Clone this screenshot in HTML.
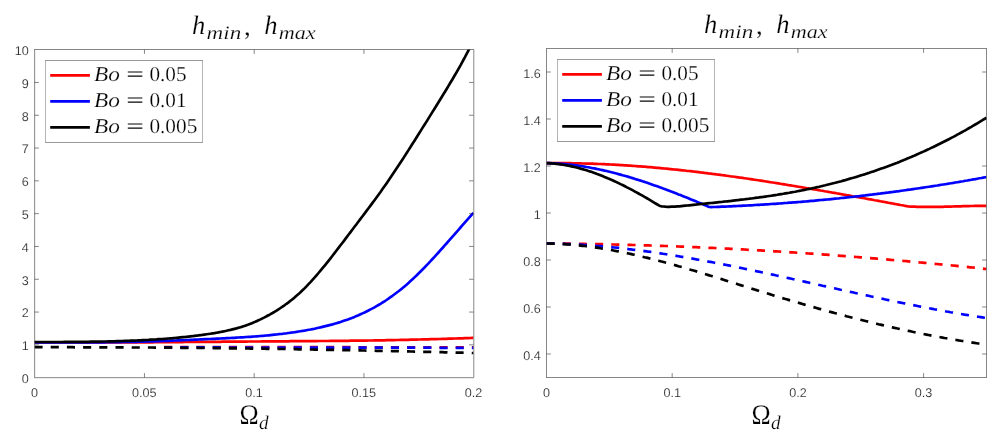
<!DOCTYPE html>
<html lang="en"><head><meta charset="utf-8"><title>h_min, h_max</title>
<style>html,body{margin:0;padding:0;background:#fff}svg{display:block;will-change:transform}.tk{font-family:"Liberation Sans",sans-serif;font-size:12.6px;fill:#262626;text-rendering:geometricPrecision;stroke:#fff;stroke-width:.15px}.m{font-family:"Liberation Serif",serif;fill:#000;text-rendering:geometricPrecision;stroke:#fff;stroke-width:.2px}.i{font-style:italic}</style></head><body>
<svg width="1008" height="442" viewBox="0 0 1008 442">
<rect width="1008" height="442" fill="#fff"/>
<clipPath id="cl"><rect x="34.5" y="49.5" width="439.0" height="328.0"/></clipPath>
<text class="tk" x="34.5" y="397.2" text-anchor="middle">0</text>
<text class="tk" x="144.2" y="397.2" text-anchor="middle">0.05</text>
<text class="tk" x="254.0" y="397.2" text-anchor="middle">0.1</text>
<text class="tk" x="363.7" y="397.2" text-anchor="middle">0.15</text>
<text class="tk" x="473.5" y="397.2" text-anchor="middle">0.2</text>
<text class="tk" x="28.7" y="383.0" text-anchor="end">0</text>
<text class="tk" x="28.7" y="350.2" text-anchor="end">1</text>
<text class="tk" x="28.7" y="317.4" text-anchor="end">2</text>
<text class="tk" x="28.7" y="284.6" text-anchor="end">3</text>
<text class="tk" x="28.7" y="251.8" text-anchor="end">4</text>
<text class="tk" x="28.7" y="219.0" text-anchor="end">5</text>
<text class="tk" x="28.7" y="186.2" text-anchor="end">6</text>
<text class="tk" x="28.7" y="153.4" text-anchor="end">7</text>
<text class="tk" x="28.7" y="120.6" text-anchor="end">8</text>
<text class="tk" x="28.7" y="87.8" text-anchor="end">9</text>
<text class="tk" x="28.7" y="55.0" text-anchor="end">10</text>
<g clip-path="url(#cl)" fill="none" stroke-width="2.67" stroke-linejoin="round">
<path d="M34.5,342.5 L36.5,342.5 L38.5,342.5 L40.5,342.5 L42.5,342.5 L44.5,342.5 L46.5,342.5 L48.5,342.5 L50.5,342.5 L52.5,342.5 L54.5,342.5 L56.5,342.5 L58.5,342.5 L60.5,342.5 L62.5,342.5 L64.5,342.5 L66.5,342.5 L68.5,342.5 L70.5,342.5 L72.5,342.5 L74.5,342.5 L76.5,342.5 L78.5,342.5 L80.5,342.5 L82.5,342.5 L84.5,342.5 L86.5,342.5 L88.5,342.5 L90.5,342.5 L92.5,342.5 L94.5,342.5 L96.5,342.5 L98.5,342.5 L100.5,342.5 L102.5,342.5 L104.5,342.5 L106.5,342.5 L108.5,342.5 L110.5,342.5 L112.5,342.5 L114.5,342.5 L116.5,342.5 L118.5,342.4 L120.5,342.4 L122.5,342.4 L124.5,342.4 L126.5,342.4 L128.5,342.4 L130.5,342.4 L132.5,342.4 L134.5,342.4 L136.5,342.3 L138.5,342.3 L140.5,342.3 L142.5,342.3 L144.5,342.3 L146.5,342.3 L148.5,342.3 L150.5,342.3 L152.5,342.3 L154.5,342.2 L156.5,342.2 L158.5,342.2 L160.5,342.2 L162.5,342.2 L164.5,342.2 L166.5,342.2 L168.5,342.2 L170.5,342.1 L172.5,342.1 L174.5,342.1 L176.5,342.1 L178.5,342.1 L180.5,342.1 L182.5,342.1 L184.5,342.0 L186.5,342.0 L188.5,342.0 L190.5,342.0 L192.5,342.0 L194.5,342.0 L196.5,342.0 L198.5,341.9 L200.5,341.9 L202.5,341.9 L204.5,341.9 L206.5,341.9 L208.5,341.9 L210.5,341.8 L212.5,341.8 L214.5,341.8 L216.5,341.8 L218.5,341.8 L220.5,341.8 L222.5,341.7 L224.5,341.7 L226.5,341.7 L228.5,341.7 L230.5,341.7 L232.5,341.7 L234.5,341.7 L236.5,341.6 L238.5,341.6 L240.5,341.6 L242.5,341.6 L244.5,341.6 L246.5,341.6 L248.5,341.5 L250.5,341.5 L252.5,341.5 L254.5,341.5 L256.5,341.5 L258.5,341.5 L260.5,341.5 L262.5,341.4 L264.5,341.4 L266.5,341.4 L268.5,341.4 L270.5,341.4 L272.5,341.4 L274.5,341.4 L276.5,341.3 L278.5,341.3 L280.5,341.3 L282.5,341.3 L284.5,341.3 L286.5,341.3 L288.5,341.3 L290.5,341.2 L292.5,341.2 L294.5,341.2 L296.5,341.2 L298.5,341.2 L300.5,341.2 L302.5,341.2 L304.5,341.1 L306.5,341.1 L308.5,341.1 L310.5,341.1 L312.5,341.1 L314.5,341.1 L316.5,341.1 L318.5,341.0 L320.5,341.0 L322.5,341.0 L324.5,341.0 L326.5,341.0 L328.5,341.0 L330.5,340.9 L332.5,340.9 L334.5,340.9 L336.5,340.9 L338.5,340.9 L340.5,340.8 L342.5,340.8 L344.5,340.8 L346.5,340.8 L348.5,340.8 L350.5,340.7 L352.5,340.7 L354.5,340.7 L356.5,340.7 L358.5,340.7 L360.5,340.6 L362.5,340.6 L364.5,340.6 L366.5,340.6 L368.5,340.5 L370.5,340.5 L372.5,340.5 L374.5,340.4 L376.5,340.4 L378.5,340.4 L380.5,340.3 L382.5,340.3 L384.5,340.3 L386.5,340.2 L388.5,340.2 L390.5,340.2 L392.5,340.1 L394.5,340.1 L396.5,340.0 L398.5,340.0 L400.5,339.9 L402.5,339.9 L404.5,339.9 L406.5,339.8 L408.5,339.8 L410.5,339.7 L412.5,339.7 L414.5,339.6 L416.5,339.6 L418.5,339.5 L420.5,339.5 L422.5,339.4 L424.5,339.4 L426.5,339.3 L428.5,339.3 L430.5,339.2 L432.5,339.2 L434.5,339.1 L436.5,339.1 L438.5,339.0 L440.5,339.0 L442.5,338.9 L444.5,338.8 L446.5,338.8 L448.5,338.7 L450.5,338.7 L452.5,338.6 L454.5,338.5 L456.5,338.5 L458.5,338.4 L460.5,338.3 L462.5,338.3 L464.5,338.2 L466.5,338.1 L468.5,338.1 L470.5,338.0 L472.5,337.9 L473.5,337.9" stroke="#ff0000"/>
<path d="M34.5,342.4 L36.5,342.4 L38.5,342.5 L40.5,342.5 L42.5,342.5 L44.5,342.5 L46.5,342.5 L48.5,342.5 L50.5,342.5 L52.5,342.5 L54.5,342.5 L56.5,342.5 L58.5,342.5 L60.5,342.5 L62.5,342.5 L64.5,342.4 L66.5,342.4 L68.5,342.4 L70.5,342.4 L72.5,342.4 L74.5,342.4 L76.5,342.4 L78.5,342.4 L80.5,342.4 L82.5,342.4 L84.5,342.4 L86.5,342.4 L88.5,342.4 L90.5,342.4 L92.5,342.4 L94.5,342.3 L96.5,342.3 L98.5,342.3 L100.5,342.3 L102.5,342.3 L104.5,342.3 L106.5,342.2 L108.5,342.2 L110.5,342.2 L112.5,342.2 L114.5,342.1 L116.5,342.1 L118.5,342.1 L120.5,342.1 L122.5,342.0 L124.5,342.0 L126.5,342.0 L128.5,341.9 L130.5,341.9 L132.5,341.8 L134.5,341.8 L136.5,341.8 L138.5,341.7 L140.5,341.7 L142.5,341.6 L144.5,341.6 L146.5,341.5 L148.5,341.4 L150.5,341.4 L152.5,341.3 L154.5,341.3 L156.5,341.2 L158.5,341.1 L160.5,341.1 L162.5,341.0 L164.5,340.9 L166.5,340.8 L168.5,340.8 L170.5,340.7 L172.5,340.6 L174.5,340.5 L176.5,340.5 L178.5,340.4 L180.5,340.3 L182.5,340.2 L184.5,340.1 L186.5,340.0 L188.5,340.0 L190.5,339.9 L192.5,339.8 L194.5,339.7 L196.5,339.6 L198.5,339.5 L200.5,339.4 L202.5,339.3 L204.5,339.2 L206.5,339.1 L208.5,339.0 L210.5,339.0 L212.5,338.9 L214.5,338.8 L216.5,338.7 L218.5,338.6 L220.5,338.5 L222.5,338.4 L224.5,338.3 L226.5,338.2 L228.5,338.1 L230.5,338.0 L232.5,337.9 L234.5,337.8 L236.5,337.6 L238.5,337.5 L240.5,337.4 L242.5,337.3 L244.5,337.2 L246.5,337.0 L248.5,336.9 L250.5,336.8 L252.5,336.6 L254.5,336.5 L256.5,336.3 L258.5,336.2 L260.5,336.0 L262.5,335.8 L264.5,335.7 L266.5,335.5 L268.5,335.3 L270.5,335.1 L272.5,334.9 L274.5,334.7 L276.5,334.5 L278.5,334.2 L280.5,334.0 L282.5,333.8 L284.5,333.5 L286.5,333.3 L288.5,333.0 L290.5,332.7 L292.5,332.5 L294.5,332.2 L296.5,331.9 L298.5,331.5 L300.5,331.2 L302.5,330.9 L304.5,330.6 L306.5,330.2 L308.5,329.8 L310.5,329.5 L312.5,329.1 L314.5,328.7 L316.5,328.2 L318.5,327.8 L320.5,327.4 L322.5,326.9 L324.5,326.4 L326.5,325.9 L328.5,325.4 L330.5,324.9 L332.5,324.4 L334.5,323.8 L336.5,323.2 L338.5,322.6 L340.5,322.0 L342.5,321.3 L344.5,320.6 L346.5,319.9 L348.5,319.2 L350.5,318.4 L352.5,317.7 L354.5,316.9 L356.5,316.0 L358.5,315.2 L360.5,314.3 L362.5,313.4 L364.5,312.5 L366.5,311.5 L368.5,310.5 L370.5,309.4 L372.5,308.4 L374.5,307.3 L376.5,306.1 L378.5,305.0 L380.5,303.8 L382.5,302.5 L384.5,301.3 L386.5,300.0 L388.5,298.6 L390.5,297.2 L392.5,295.8 L394.5,294.3 L396.5,292.8 L398.5,291.3 L400.5,289.7 L402.5,288.1 L404.5,286.4 L406.5,284.7 L408.5,282.9 L410.5,281.1 L412.5,279.3 L414.5,277.4 L416.5,275.5 L418.5,273.5 L420.5,271.5 L422.5,269.5 L424.5,267.5 L426.5,265.4 L428.5,263.3 L430.5,261.2 L432.5,259.0 L434.5,256.9 L436.5,254.7 L438.5,252.5 L440.5,250.2 L442.5,248.0 L444.5,245.7 L446.5,243.5 L448.5,241.2 L450.5,238.9 L452.5,236.6 L454.5,234.3 L456.5,232.1 L458.5,229.8 L460.5,227.5 L462.5,225.2 L464.5,222.9 L466.5,220.6 L468.5,218.4 L470.5,216.1 L472.5,213.9 L473.5,212.8" stroke="#0000ff"/>
<path d="M34.5,342.0 L36.5,342.0 L38.5,342.0 L40.5,342.0 L42.5,342.0 L44.5,342.0 L46.5,342.0 L48.5,342.0 L50.5,342.0 L52.5,342.0 L54.5,342.0 L56.5,342.0 L58.5,342.0 L60.5,342.0 L62.5,342.0 L64.5,341.9 L66.5,341.9 L68.5,341.9 L70.5,341.9 L72.5,341.9 L74.5,341.9 L76.5,341.9 L78.5,341.9 L80.5,341.8 L82.5,341.8 L84.5,341.8 L86.5,341.8 L88.5,341.8 L90.5,341.7 L92.5,341.7 L94.5,341.7 L96.5,341.6 L98.5,341.6 L100.5,341.6 L102.5,341.5 L104.5,341.5 L106.5,341.5 L108.5,341.4 L110.5,341.4 L112.5,341.3 L114.5,341.3 L116.5,341.2 L118.5,341.1 L120.5,341.1 L122.5,341.0 L124.5,340.9 L126.5,340.9 L128.5,340.8 L130.5,340.7 L132.5,340.6 L134.5,340.6 L136.5,340.5 L138.5,340.4 L140.5,340.3 L142.5,340.2 L144.5,340.1 L146.5,340.0 L148.5,339.9 L150.5,339.7 L152.5,339.6 L154.5,339.5 L156.5,339.4 L158.5,339.2 L160.5,339.1 L162.5,339.0 L164.5,338.8 L166.5,338.7 L168.5,338.5 L170.5,338.3 L172.5,338.2 L174.5,338.0 L176.5,337.8 L178.5,337.6 L180.5,337.4 L182.5,337.2 L184.5,337.0 L186.5,336.8 L188.5,336.6 L190.5,336.4 L192.5,336.2 L194.5,335.9 L196.5,335.7 L198.5,335.4 L200.5,335.2 L202.5,334.9 L204.5,334.6 L206.5,334.3 L208.5,334.0 L210.5,333.7 L212.5,333.4 L214.5,333.1 L216.5,332.7 L218.5,332.4 L220.5,332.0 L222.5,331.6 L224.5,331.2 L226.5,330.8 L228.5,330.3 L230.5,329.9 L232.5,329.4 L234.5,328.9 L236.5,328.4 L238.5,327.8 L240.5,327.2 L242.5,326.6 L244.5,325.9 L246.5,325.2 L248.5,324.5 L250.5,323.7 L252.5,322.9 L254.5,322.1 L256.5,321.2 L258.5,320.3 L260.5,319.4 L262.5,318.4 L264.5,317.4 L266.5,316.3 L268.5,315.3 L270.5,314.1 L272.5,313.0 L274.5,311.8 L276.5,310.6 L278.5,309.3 L280.5,308.0 L282.5,306.7 L284.5,305.3 L286.5,303.8 L288.5,302.4 L290.5,300.8 L292.5,299.2 L294.5,297.6 L296.5,295.8 L298.5,294.1 L300.5,292.2 L302.5,290.3 L304.5,288.4 L306.5,286.3 L308.5,284.2 L310.5,282.1 L312.5,279.9 L314.5,277.7 L316.5,275.4 L318.5,273.0 L320.5,270.6 L322.5,268.2 L324.5,265.8 L326.5,263.3 L328.5,260.8 L330.5,258.3 L332.5,255.7 L334.5,253.1 L336.5,250.5 L338.5,247.9 L340.5,245.3 L342.5,242.7 L344.5,240.1 L346.5,237.4 L348.5,234.8 L350.5,232.1 L352.5,229.5 L354.5,226.8 L356.5,224.2 L358.5,221.5 L360.5,218.9 L362.5,216.2 L364.5,213.6 L366.5,210.9 L368.5,208.3 L370.5,205.6 L372.5,202.9 L374.5,200.2 L376.5,197.5 L378.5,194.7 L380.5,192.0 L382.5,189.1 L384.5,186.3 L386.5,183.4 L388.5,180.5 L390.5,177.6 L392.5,174.6 L394.5,171.6 L396.5,168.6 L398.5,165.6 L400.5,162.5 L402.5,159.5 L404.5,156.4 L406.5,153.3 L408.5,150.1 L410.5,147.0 L412.5,143.8 L414.5,140.7 L416.5,137.5 L418.5,134.3 L420.5,131.1 L422.5,127.9 L424.5,124.8 L426.5,121.6 L428.5,118.4 L430.5,115.1 L432.5,111.9 L434.5,108.7 L436.5,105.5 L438.5,102.3 L440.5,99.0 L442.5,95.8 L444.5,92.5 L446.5,89.2 L448.5,85.9 L450.5,82.5 L452.5,79.2 L454.5,75.8 L456.5,72.3 L458.5,68.8 L460.5,65.3 L462.5,61.6 L464.5,58.0 L466.5,54.2 L468.5,50.4 L470.5,46.5" stroke="#000000"/>
<path d="M164.1,347.2 L166.1,347.2 L168.1,347.2 L170.1,347.2 L172.1,347.2 L174.1,347.2 L176.1,347.2 L178.1,347.2 L180.1,347.2 L182.1,347.2 L184.1,347.2 L186.1,347.2 L188.1,347.2 L190.1,347.2 L192.1,347.2 L194.1,347.2 L196.1,347.2 L198.1,347.2 L200.1,347.2 L202.1,347.2 L204.1,347.2 L206.1,347.2 L208.1,347.2 L210.1,347.2 L212.1,347.2 L214.1,347.2 L216.1,347.2 L218.1,347.2 L220.1,347.2 L222.1,347.2 L224.1,347.2 L226.1,347.2 L228.1,347.2 L230.1,347.2 L232.1,347.2 L234.1,347.2 L236.1,347.2 L238.1,347.2 L240.1,347.2 L242.1,347.2 L244.1,347.2 L246.1,347.2 L248.1,347.2 L250.1,347.2 L252.1,347.2 L254.1,347.2 L256.1,347.2 L258.1,347.2 L260.1,347.2 L262.1,347.2 L264.1,347.2 L266.1,347.2 L268.1,347.2 L270.1,347.2 L272.1,347.2 L274.1,347.2 L276.1,347.2 L278.1,347.2 L280.1,347.2 L282.1,347.2 L284.1,347.2 L286.1,347.2 L288.1,347.2 L290.1,347.2 L292.1,347.2 L294.1,347.2 L296.1,347.2 L298.1,347.2 L300.1,347.2 L302.1,347.2 L304.1,347.2 L306.1,347.2 L308.1,347.2 L310.1,347.2 L312.1,347.2 L314.1,347.2 L316.1,347.2 L318.1,347.2 L320.1,347.2 L322.1,347.2 L324.1,347.2 L326.1,347.2 L328.1,347.2 L330.1,347.2 L332.1,347.2 L334.1,347.2 L336.1,347.2 L338.1,347.2 L340.1,347.2 L342.1,347.2 L344.1,347.2 L346.1,347.2 L348.1,347.2 L350.1,347.2 L352.1,347.2 L354.1,347.2 L356.1,347.2 L358.1,347.3 L360.1,347.3 L362.1,347.3 L364.1,347.3 L366.1,347.3 L368.1,347.3 L370.1,347.3 L372.1,347.3 L374.1,347.3 L376.1,347.3 L378.1,347.3 L380.1,347.3 L382.1,347.3 L384.1,347.3 L386.1,347.3 L388.1,347.3 L390.1,347.3 L392.1,347.3 L394.1,347.3 L396.1,347.3 L398.1,347.3 L400.1,347.3 L402.1,347.3 L404.1,347.3 L406.1,347.3 L408.1,347.3 L410.1,347.3 L412.1,347.3 L414.1,347.3 L416.1,347.3 L418.1,347.3 L420.1,347.3 L422.1,347.3 L424.1,347.3 L426.1,347.3 L428.1,347.3 L430.1,347.3 L432.1,347.3 L434.1,347.3 L436.1,347.3 L438.1,347.3 L440.1,347.4 L442.1,347.4 L444.1,347.4 L446.1,347.4 L448.1,347.4 L450.1,347.4 L452.1,347.4 L454.1,347.4 L456.1,347.4 L458.1,347.4 L460.1,347.4 L462.1,347.4 L464.1,347.4 L466.1,347.4 L468.1,347.4 L470.1,347.4 L472.1,347.4 L473.5,347.4" stroke="#ff0000" stroke-dasharray="8.1 8.1"/>
<path d="M164.1,347.4 L166.1,347.4 L168.1,347.4 L170.1,347.4 L172.1,347.4 L174.1,347.4 L176.1,347.4 L178.1,347.4 L180.1,347.4 L182.1,347.4 L184.1,347.4 L186.1,347.4 L188.1,347.4 L190.1,347.4 L192.1,347.4 L194.1,347.4 L196.1,347.4 L198.1,347.4 L200.1,347.4 L202.1,347.4 L204.1,347.4 L206.1,347.4 L208.1,347.4 L210.1,347.4 L212.1,347.4 L214.1,347.4 L216.1,347.4 L218.1,347.4 L220.1,347.4 L222.1,347.4 L224.1,347.5 L226.1,347.5 L228.1,347.5 L230.1,347.5 L232.1,347.5 L234.1,347.5 L236.1,347.5 L238.1,347.5 L240.1,347.5 L242.1,347.5 L244.1,347.5 L246.1,347.5 L248.1,347.5 L250.1,347.5 L252.1,347.5 L254.1,347.5 L256.1,347.5 L258.1,347.5 L260.1,347.5 L262.1,347.5 L264.1,347.5 L266.1,347.5 L268.1,347.5 L270.1,347.5 L272.1,347.5 L274.1,347.5 L276.1,347.5 L278.1,347.5 L280.1,347.5 L282.1,347.5 L284.1,347.5 L286.1,347.5 L288.1,347.6 L290.1,347.6 L292.1,347.6 L294.1,347.6 L296.1,347.6 L298.1,347.6 L300.1,347.6 L302.1,347.6 L304.1,347.6 L306.1,347.6 L308.1,347.6 L310.1,347.6 L312.1,347.6 L314.1,347.6 L316.1,347.6 L318.1,347.6 L320.1,347.6 L322.1,347.6 L324.1,347.6 L326.1,347.6 L328.1,347.6 L330.1,347.6 L332.1,347.6 L334.1,347.6 L336.1,347.6 L338.1,347.6 L340.1,347.6 L342.1,347.6 L344.1,347.6 L346.1,347.6 L348.1,347.6 L350.1,347.6 L352.1,347.6 L354.1,347.6 L356.1,347.6 L358.1,347.7 L360.1,347.7 L362.1,347.7 L364.1,347.7 L366.1,347.7 L368.1,347.7 L370.1,347.7 L372.1,347.7 L374.1,347.7 L376.1,347.7 L378.1,347.7 L380.1,347.7 L382.1,347.7 L384.1,347.7 L386.1,347.7 L388.1,347.7 L390.1,347.7 L392.1,347.7 L394.1,347.7 L396.1,347.7 L398.1,347.7 L400.1,347.7 L402.1,347.7 L404.1,347.7 L406.1,347.7 L408.1,347.7 L410.1,347.7 L412.1,347.7 L414.1,347.7 L416.1,347.7 L418.1,347.7 L420.1,347.7 L422.1,347.7 L424.1,347.7 L426.1,347.7 L428.1,347.7 L430.1,347.7 L432.1,347.8 L434.1,347.8 L436.1,347.8 L438.1,347.8 L440.1,347.8 L442.1,347.8 L444.1,347.8 L446.1,347.8 L448.1,347.8 L450.1,347.8 L452.1,347.8 L454.1,347.8 L456.1,347.8 L458.1,347.8 L460.1,347.8 L462.1,347.8 L464.1,347.8 L466.1,347.8 L468.1,347.8 L470.1,347.8 L472.1,347.8 L473.5,347.8" stroke="#0000ff" stroke-dasharray="8.1 8.1"/>
<path d="M34.5,347.2 L36.5,347.2 L38.5,347.2 L40.5,347.2 L42.5,347.2 L44.5,347.2 L46.5,347.2 L48.5,347.2 L50.5,347.2 L52.5,347.2 L54.5,347.2 L56.5,347.2 L58.5,347.2 L60.5,347.2 L62.5,347.2 L64.5,347.2 L66.5,347.2 L68.5,347.2 L70.5,347.2 L72.5,347.2 L74.5,347.3 L76.5,347.3 L78.5,347.3 L80.5,347.3 L82.5,347.3 L84.5,347.3 L86.5,347.3 L88.5,347.3 L90.5,347.3 L92.5,347.3 L94.5,347.3 L96.5,347.3 L98.5,347.3 L100.5,347.3 L102.5,347.3 L104.5,347.3 L106.5,347.3 L108.5,347.4 L110.5,347.4 L112.5,347.4 L114.5,347.4 L116.5,347.4 L118.5,347.4 L120.5,347.4 L122.5,347.4 L124.5,347.4 L126.5,347.4 L128.5,347.4 L130.5,347.4 L132.5,347.5 L134.5,347.5 L136.5,347.5 L138.5,347.5 L140.5,347.5 L142.5,347.5 L144.5,347.5 L146.5,347.5 L148.5,347.5 L150.5,347.5 L152.5,347.5 L154.5,347.6 L156.5,347.6 L158.5,347.6 L160.5,347.6 L162.5,347.6 L164.5,347.6 L166.5,347.6 L168.5,347.6 L170.5,347.7 L172.5,347.7 L174.5,347.7 L176.5,347.7 L178.5,347.7 L180.5,347.8 L182.5,347.8 L184.5,347.8 L186.5,347.8 L188.5,347.8 L190.5,347.8 L192.5,347.9 L194.5,347.9 L196.5,347.9 L198.5,347.9 L200.5,348.0 L202.5,348.0 L204.5,348.0 L206.5,348.0 L208.5,348.0 L210.5,348.1 L212.5,348.1 L214.5,348.1 L216.5,348.1 L218.5,348.2 L220.5,348.2 L222.5,348.2 L224.5,348.2 L226.5,348.3 L228.5,348.3 L230.5,348.3 L232.5,348.3 L234.5,348.4 L236.5,348.4 L238.5,348.4 L240.5,348.4 L242.5,348.5 L244.5,348.5 L246.5,348.5 L248.5,348.5 L250.5,348.6 L252.5,348.6 L254.5,348.6 L256.5,348.6 L258.5,348.7 L260.5,348.7 L262.5,348.7 L264.5,348.7 L266.5,348.8 L268.5,348.8 L270.5,348.8 L272.5,348.9 L274.5,348.9 L276.5,348.9 L278.5,348.9 L280.5,349.0 L282.5,349.0 L284.5,349.0 L286.5,349.1 L288.5,349.1 L290.5,349.1 L292.5,349.2 L294.5,349.2 L296.5,349.2 L298.5,349.3 L300.5,349.3 L302.5,349.3 L304.5,349.4 L306.5,349.4 L308.5,349.4 L310.5,349.5 L312.5,349.5 L314.5,349.6 L316.5,349.6 L318.5,349.6 L320.5,349.7 L322.5,349.7 L324.5,349.7 L326.5,349.8 L328.5,349.8 L330.5,349.9 L332.5,349.9 L334.5,349.9 L336.5,350.0 L338.5,350.0 L340.5,350.0 L342.5,350.1 L344.5,350.1 L346.5,350.2 L348.5,350.2 L350.5,350.2 L352.5,350.3 L354.5,350.3 L356.5,350.4 L358.5,350.4 L360.5,350.4 L362.5,350.5 L364.5,350.5 L366.5,350.6 L368.5,350.6 L370.5,350.6 L372.5,350.7 L374.5,350.7 L376.5,350.8 L378.5,350.8 L380.5,350.8 L382.5,350.9 L384.5,350.9 L386.5,351.0 L388.5,351.0 L390.5,351.0 L392.5,351.1 L394.5,351.1 L396.5,351.2 L398.5,351.2 L400.5,351.3 L402.5,351.3 L404.5,351.4 L406.5,351.4 L408.5,351.4 L410.5,351.5 L412.5,351.5 L414.5,351.6 L416.5,351.6 L418.5,351.7 L420.5,351.7 L422.5,351.8 L424.5,351.8 L426.5,351.9 L428.5,351.9 L430.5,351.9 L432.5,352.0 L434.5,352.0 L436.5,352.1 L438.5,352.1 L440.5,352.2 L442.5,352.2 L444.5,352.3 L446.5,352.3 L448.5,352.4 L450.5,352.4 L452.5,352.5 L454.5,352.5 L456.5,352.6 L458.5,352.6 L460.5,352.7 L462.5,352.7 L464.5,352.8 L466.5,352.8 L468.5,352.9 L470.5,352.9 L472.5,353.0 L473.5,353.0" stroke="#000000" stroke-dasharray="8.1 8.1"/>
</g>
<path d="M144.45,377.5v-4.4M144.45,49.5v4.4M254.2,377.5v-4.4M254.2,49.5v4.4M363.95,377.5v-4.4M363.95,49.5v4.4M34.5,344.85h4.4M473.5,344.85h-4.4M34.5,312.05h4.4M473.5,312.05h-4.4M34.5,279.25h4.4M473.5,279.25h-4.4M34.5,246.45h4.4M473.5,246.45h-4.4M34.5,213.65h4.4M473.5,213.65h-4.4M34.5,180.85h4.4M473.5,180.85h-4.4M34.5,148.05h4.4M473.5,148.05h-4.4M34.5,115.25h4.4M473.5,115.25h-4.4M34.5,82.45h4.4M473.5,82.45h-4.4M34.65,49.5V377.5M473.8,49.5V377.5M34.2,49.5H473.8M34.2,377.68H473.8" fill="none" stroke="#262626" stroke-width="0.56"/>
<rect x="45.5" y="60.5" width="157" height="82" fill="#fff"/>
<path d="M45.5,60.5V142.5M202.5,60.5V142.5" fill="none" stroke="#b4b4b4" stroke-width="1" shape-rendering="crispEdges"/>
<path d="M45.0,60.5H203.0M45.0,142.5H203.0" fill="none" stroke="#989898" stroke-width="1" shape-rendering="crispEdges"/>
<line x1="50.2" x2="89.9" y1="75.4" y2="75.4" stroke="#ff0000" stroke-width="2.67"/>
<text class="m i" font-size="21" x="94.0" y="80.9" textLength="25.8" lengthAdjust="spacingAndGlyphs">Bo</text>
<text class="m" font-size="21" x="126.2" y="80.5" textLength="17.6" lengthAdjust="spacingAndGlyphs" style="stroke:none">=</text>
<text class="m" font-size="21" x="149.4" y="80.9" textLength="37.1" lengthAdjust="spacingAndGlyphs">0.05</text>
<line x1="50.2" x2="89.9" y1="101.4" y2="101.4" stroke="#0000ff" stroke-width="2.67"/>
<text class="m i" font-size="21" x="94.0" y="106.9" textLength="25.8" lengthAdjust="spacingAndGlyphs">Bo</text>
<text class="m" font-size="21" x="126.2" y="106.5" textLength="17.6" lengthAdjust="spacingAndGlyphs" style="stroke:none">=</text>
<text class="m" font-size="21" x="149.4" y="106.9" textLength="37.1" lengthAdjust="spacingAndGlyphs">0.01</text>
<line x1="50.2" x2="89.9" y1="127.4" y2="127.4" stroke="#000000" stroke-width="2.67"/>
<text class="m i" font-size="21" x="94.0" y="132.9" textLength="25.8" lengthAdjust="spacingAndGlyphs">Bo</text>
<text class="m" font-size="21" x="126.2" y="132.5" textLength="17.6" lengthAdjust="spacingAndGlyphs" style="stroke:none">=</text>
<text class="m" font-size="21" x="149.4" y="132.9" textLength="47.9" lengthAdjust="spacingAndGlyphs">0.005</text>
<text class="m i" font-size="26.5" x="192.0" y="34.1" textLength="13.3" lengthAdjust="spacingAndGlyphs">h</text>
<text class="m i" font-size="19" x="206.6" y="38.6" textLength="34.6" lengthAdjust="spacingAndGlyphs">min</text>
<text class="m" font-size="27" x="244.0" y="35.4">,</text>
<text class="m i" font-size="26.5" x="264.2" y="34.1" textLength="13.3" lengthAdjust="spacingAndGlyphs">h</text>
<text class="m i" font-size="19" x="278.8" y="38.6" textLength="36.9" lengthAdjust="spacingAndGlyphs">max</text>
<text class="m" font-size="28.5" x="239.4" y="424.1" textLength="19.2" lengthAdjust="spacingAndGlyphs">Ω</text>
<text class="m i" font-size="19.5" x="258.9" y="429.0" textLength="9.6" lengthAdjust="spacingAndGlyphs">d</text>
<clipPath id="cr"><rect x="546.5" y="48.5" width="440.0" height="329.0"/></clipPath>
<text class="tk" x="546.5" y="397.2" text-anchor="middle">0</text>
<text class="tk" x="672.2" y="397.2" text-anchor="middle">0.1</text>
<text class="tk" x="797.9" y="397.2" text-anchor="middle">0.2</text>
<text class="tk" x="923.6" y="397.2" text-anchor="middle">0.3</text>
<text class="tk" x="540.7" y="359.5" text-anchor="end">0.4</text>
<text class="tk" x="540.7" y="312.5" text-anchor="end">0.6</text>
<text class="tk" x="540.7" y="265.5" text-anchor="end">0.8</text>
<text class="tk" x="540.7" y="218.5" text-anchor="end">1</text>
<text class="tk" x="540.7" y="171.5" text-anchor="end">1.2</text>
<text class="tk" x="540.7" y="124.5" text-anchor="end">1.4</text>
<text class="tk" x="540.7" y="77.5" text-anchor="end">1.6</text>
<g clip-path="url(#cr)" fill="none" stroke-width="2.67" stroke-linejoin="round">
<path d="M546.5,163.3 L548.5,163.2 L550.5,163.2 L552.5,163.2 L554.5,163.2 L556.5,163.2 L558.5,163.2 L560.5,163.2 L562.5,163.2 L564.5,163.2 L566.5,163.2 L568.5,163.2 L570.5,163.2 L572.5,163.3 L574.5,163.3 L576.5,163.3 L578.5,163.4 L580.5,163.4 L582.5,163.5 L584.5,163.5 L586.5,163.6 L588.5,163.6 L590.5,163.7 L592.5,163.7 L594.5,163.8 L596.5,163.9 L598.5,164.0 L600.5,164.0 L602.5,164.1 L604.5,164.2 L606.5,164.3 L608.5,164.4 L610.5,164.5 L612.5,164.6 L614.5,164.7 L616.5,164.8 L618.5,164.9 L620.5,165.1 L622.5,165.2 L624.5,165.3 L626.5,165.4 L628.5,165.6 L630.5,165.7 L632.5,165.8 L634.5,166.0 L636.5,166.1 L638.5,166.3 L640.5,166.4 L642.5,166.6 L644.5,166.7 L646.5,166.9 L648.5,167.1 L650.5,167.2 L652.5,167.4 L654.5,167.6 L656.5,167.8 L658.5,167.9 L660.5,168.1 L662.5,168.3 L664.5,168.5 L666.5,168.7 L668.5,168.9 L670.5,169.1 L672.5,169.3 L674.5,169.5 L676.5,169.7 L678.5,169.9 L680.5,170.1 L682.5,170.3 L684.5,170.5 L686.5,170.8 L688.5,171.0 L690.5,171.2 L692.5,171.4 L694.5,171.7 L696.5,171.9 L698.5,172.1 L700.5,172.4 L702.5,172.6 L704.5,172.9 L706.5,173.1 L708.5,173.4 L710.5,173.6 L712.5,173.9 L714.5,174.1 L716.5,174.4 L718.5,174.6 L720.5,174.9 L722.5,175.2 L724.5,175.4 L726.5,175.7 L728.5,176.0 L730.5,176.3 L732.5,176.5 L734.5,176.8 L736.5,177.1 L738.5,177.4 L740.5,177.7 L742.5,177.9 L744.5,178.2 L746.5,178.5 L748.5,178.8 L750.5,179.1 L752.5,179.4 L754.5,179.7 L756.5,180.0 L758.5,180.3 L760.5,180.6 L762.5,180.9 L764.5,181.2 L766.5,181.5 L768.5,181.9 L770.5,182.2 L772.5,182.5 L774.5,182.8 L776.5,183.1 L778.5,183.4 L780.5,183.8 L782.5,184.1 L784.5,184.4 L786.5,184.7 L788.5,185.1 L790.5,185.4 L792.5,185.7 L794.5,186.0 L796.5,186.4 L798.5,186.7 L800.5,187.0 L802.5,187.4 L804.5,187.7 L806.5,188.1 L808.5,188.4 L810.5,188.7 L812.5,189.1 L814.5,189.4 L816.5,189.8 L818.5,190.1 L820.5,190.5 L822.5,190.8 L824.5,191.2 L826.5,191.5 L828.5,191.9 L830.5,192.2 L832.5,192.6 L834.5,192.9 L836.5,193.3 L838.5,193.6 L840.5,194.0 L842.5,194.4 L844.5,194.7 L846.5,195.1 L848.5,195.4 L850.5,195.8 L852.5,196.2 L854.5,196.5 L856.5,196.9 L858.5,197.2 L860.5,197.6 L862.5,198.0 L864.5,198.3 L866.5,198.7 L868.5,199.1 L870.5,199.4 L872.5,199.8 L874.5,200.2 L876.5,200.5 L878.5,200.9 L880.5,201.3 L882.5,201.6 L884.5,202.0 L886.5,202.4 L888.5,202.8 L890.5,203.1 L892.5,203.5 L894.5,203.9 L896.5,204.2 L898.5,204.6 L900.5,205.0 L902.5,205.3 L904.5,205.7 L906.5,206.1 L908.5,206.5 L908.8,206.5 L910.8,206.6 L912.8,206.7 L914.8,206.7 L916.8,206.8 L918.8,206.8 L920.8,206.9 L922.8,206.9 L924.8,206.9 L926.8,206.9 L928.8,206.9 L930.8,206.9 L932.8,206.9 L934.8,206.9 L936.8,206.9 L938.8,206.8 L940.8,206.8 L942.8,206.8 L944.8,206.7 L946.8,206.7 L948.8,206.6 L950.8,206.6 L952.8,206.5 L954.8,206.4 L956.8,206.4 L958.8,206.3 L960.8,206.3 L962.8,206.2 L964.8,206.2 L966.8,206.1 L968.8,206.1 L970.8,206.0 L972.8,206.0 L974.8,205.9 L976.8,205.9 L978.8,205.9 L980.8,205.8 L982.8,205.8 L984.8,205.8 L986.5,205.8" stroke="#ff0000"/>
<path d="M546.5,163.1 L548.5,163.2 L550.5,163.2 L552.5,163.3 L554.5,163.4 L556.5,163.5 L558.5,163.6 L560.5,163.8 L562.5,163.9 L564.5,164.1 L566.5,164.3 L568.5,164.5 L570.5,164.7 L572.5,164.9 L574.5,165.2 L576.5,165.4 L578.5,165.7 L580.5,166.0 L582.5,166.3 L584.5,166.6 L586.5,167.0 L588.5,167.3 L590.5,167.7 L592.5,168.1 L594.5,168.4 L596.5,168.9 L598.5,169.3 L600.5,169.7 L602.5,170.1 L604.5,170.6 L606.5,171.0 L608.5,171.5 L610.5,172.0 L612.5,172.5 L614.5,173.0 L616.5,173.5 L618.5,174.1 L620.5,174.6 L622.5,175.2 L624.5,175.7 L626.5,176.3 L628.5,176.9 L630.5,177.5 L632.5,178.1 L634.5,178.7 L636.5,179.4 L638.5,180.0 L640.5,180.6 L642.5,181.3 L644.5,181.9 L646.5,182.6 L648.5,183.3 L650.5,184.0 L652.5,184.7 L654.5,185.4 L656.5,186.1 L658.5,186.8 L660.5,187.5 L662.5,188.3 L664.5,189.0 L666.5,189.7 L668.5,190.5 L670.5,191.3 L672.5,192.0 L674.5,192.8 L676.5,193.6 L678.5,194.4 L680.5,195.1 L682.5,195.9 L684.5,196.7 L686.5,197.5 L688.5,198.3 L690.5,199.2 L692.5,200.0 L694.5,200.8 L696.5,201.6 L698.5,202.5 L700.5,203.3 L702.5,204.1 L704.5,205.0 L706.5,205.8 L708.5,206.7 L709.3,207.0 L711.3,207.1 L713.3,207.0 L715.3,207.0 L717.3,206.9 L719.3,206.8 L721.3,206.7 L723.3,206.6 L725.3,206.6 L727.3,206.5 L729.3,206.4 L731.3,206.3 L733.3,206.2 L735.3,206.1 L737.3,206.0 L739.3,205.9 L741.3,205.8 L743.3,205.7 L745.3,205.6 L747.3,205.5 L749.3,205.4 L751.3,205.3 L753.3,205.2 L755.3,205.0 L757.3,204.9 L759.3,204.8 L761.3,204.7 L763.3,204.6 L765.3,204.4 L767.3,204.3 L769.3,204.2 L771.3,204.0 L773.3,203.9 L775.3,203.8 L777.3,203.6 L779.3,203.5 L781.3,203.3 L783.3,203.2 L785.3,203.0 L787.3,202.9 L789.3,202.7 L791.3,202.6 L793.3,202.4 L795.3,202.3 L797.3,202.1 L799.3,202.0 L801.3,201.8 L803.3,201.6 L805.3,201.5 L807.3,201.3 L809.3,201.1 L811.3,200.9 L813.3,200.8 L815.3,200.6 L817.3,200.4 L819.3,200.2 L821.3,200.0 L823.3,199.8 L825.3,199.6 L827.3,199.5 L829.3,199.3 L831.3,199.1 L833.3,198.9 L835.3,198.7 L837.3,198.5 L839.3,198.3 L841.3,198.0 L843.3,197.8 L845.3,197.6 L847.3,197.4 L849.3,197.2 L851.3,197.0 L853.3,196.8 L855.3,196.5 L857.3,196.3 L859.3,196.1 L861.3,195.8 L863.3,195.6 L865.3,195.4 L867.3,195.1 L869.3,194.9 L871.3,194.7 L873.3,194.4 L875.3,194.2 L877.3,193.9 L879.3,193.7 L881.3,193.4 L883.3,193.2 L885.3,192.9 L887.3,192.7 L889.3,192.4 L891.3,192.1 L893.3,191.9 L895.3,191.6 L897.3,191.3 L899.3,191.1 L901.3,190.8 L903.3,190.5 L905.3,190.2 L907.3,189.9 L909.3,189.7 L911.3,189.4 L913.3,189.1 L915.3,188.8 L917.3,188.5 L919.3,188.2 L921.3,187.9 L923.3,187.6 L925.3,187.3 L927.3,187.0 L929.3,186.7 L931.3,186.4 L933.3,186.1 L935.3,185.8 L937.3,185.5 L939.3,185.1 L941.3,184.8 L943.3,184.5 L945.3,184.2 L947.3,183.9 L949.3,183.5 L951.3,183.2 L953.3,182.9 L955.3,182.5 L957.3,182.2 L959.3,181.9 L961.3,181.5 L963.3,181.2 L965.3,180.8 L967.3,180.5 L969.3,180.1 L971.3,179.8 L973.3,179.4 L975.3,179.1 L977.3,178.7 L979.3,178.3 L981.3,178.0 L983.3,177.6 L985.3,177.2 L986.5,177.0" stroke="#0000ff"/>
<path d="M546.5,163.1 L548.5,163.2 L550.5,163.3 L552.5,163.5 L554.5,163.6 L556.5,163.9 L558.5,164.1 L560.5,164.4 L562.5,164.7 L564.5,165.0 L566.5,165.4 L568.5,165.7 L570.5,166.1 L572.5,166.6 L574.5,167.0 L576.5,167.5 L578.5,168.0 L580.5,168.6 L582.5,169.1 L584.5,169.7 L586.5,170.3 L588.5,171.0 L590.5,171.6 L592.5,172.3 L594.5,173.0 L596.5,173.8 L598.5,174.5 L600.5,175.3 L602.5,176.1 L604.5,176.9 L606.5,177.7 L608.5,178.6 L610.5,179.4 L612.5,180.3 L614.5,181.2 L616.5,182.1 L618.5,183.1 L620.5,184.1 L622.5,185.0 L624.5,186.0 L626.5,187.1 L628.5,188.1 L630.5,189.1 L632.5,190.2 L634.5,191.3 L636.5,192.4 L638.5,193.5 L640.5,194.6 L642.5,195.7 L644.5,196.9 L646.5,198.0 L648.5,199.2 L650.5,200.4 L652.5,201.6 L654.5,202.8 L656.5,204.0 L658.5,205.2 L659.3,205.7 L661.3,206.3 L663.3,206.5 L665.3,206.7 L667.3,206.8 L669.3,206.8 L671.3,206.7 L673.3,206.7 L675.3,206.6 L677.3,206.4 L679.3,206.3 L681.3,206.1 L683.3,205.9 L685.3,205.7 L687.3,205.5 L689.3,205.3 L691.3,205.1 L693.3,204.9 L695.3,204.7 L697.3,204.4 L699.3,204.2 L701.3,204.0 L703.3,203.8 L705.3,203.6 L707.3,203.4 L709.3,203.2 L711.3,203.0 L713.3,202.8 L715.3,202.6 L717.3,202.4 L719.3,202.2 L721.3,202.0 L723.3,201.7 L725.3,201.5 L727.3,201.3 L729.3,201.1 L731.3,200.9 L733.3,200.6 L735.3,200.4 L737.3,200.2 L739.3,199.9 L741.3,199.7 L743.3,199.5 L745.3,199.2 L747.3,199.0 L749.3,198.7 L751.3,198.5 L753.3,198.2 L755.3,197.9 L757.3,197.7 L759.3,197.4 L761.3,197.1 L763.3,196.9 L765.3,196.6 L767.3,196.3 L769.3,196.0 L771.3,195.7 L773.3,195.4 L775.3,195.1 L777.3,194.8 L779.3,194.4 L781.3,194.1 L783.3,193.8 L785.3,193.4 L787.3,193.1 L789.3,192.8 L791.3,192.4 L793.3,192.0 L795.3,191.7 L797.3,191.3 L799.3,190.9 L801.3,190.5 L803.3,190.1 L805.3,189.7 L807.3,189.3 L809.3,188.9 L811.3,188.5 L813.3,188.0 L815.3,187.6 L817.3,187.1 L819.3,186.7 L821.3,186.2 L823.3,185.7 L825.3,185.3 L827.3,184.8 L829.3,184.3 L831.3,183.8 L833.3,183.3 L835.3,182.8 L837.3,182.2 L839.3,181.7 L841.3,181.2 L843.3,180.6 L845.3,180.1 L847.3,179.5 L849.3,178.9 L851.3,178.3 L853.3,177.8 L855.3,177.2 L857.3,176.6 L859.3,175.9 L861.3,175.3 L863.3,174.7 L865.3,174.1 L867.3,173.4 L869.3,172.8 L871.3,172.1 L873.3,171.4 L875.3,170.7 L877.3,170.0 L879.3,169.3 L881.3,168.6 L883.3,167.9 L885.3,167.2 L887.3,166.5 L889.3,165.7 L891.3,165.0 L893.3,164.2 L895.3,163.4 L897.3,162.7 L899.3,161.9 L901.3,161.1 L903.3,160.3 L905.3,159.4 L907.3,158.6 L909.3,157.8 L911.3,156.9 L913.3,156.1 L915.3,155.2 L917.3,154.3 L919.3,153.4 L921.3,152.5 L923.3,151.6 L925.3,150.7 L927.3,149.8 L929.3,148.9 L931.3,147.9 L933.3,147.0 L935.3,146.0 L937.3,145.0 L939.3,144.0 L941.3,143.0 L943.3,142.0 L945.3,141.0 L947.3,140.0 L949.3,139.0 L951.3,137.9 L953.3,136.9 L955.3,135.8 L957.3,134.7 L959.3,133.6 L961.3,132.5 L963.3,131.4 L965.3,130.3 L967.3,129.2 L969.3,128.0 L971.3,126.9 L973.3,125.7 L975.3,124.5 L977.3,123.3 L979.3,122.1 L981.3,120.9 L983.3,119.7 L985.3,118.5 L986.5,117.7" stroke="#000000"/>
<path d="M546.5,243.5 L548.5,243.5 L550.5,243.5 L552.5,243.5 L554.5,243.6 L556.5,243.6 L558.5,243.6 L560.5,243.6 L562.5,243.6 L564.5,243.7 L566.5,243.7 L568.5,243.7 L570.5,243.7 L572.5,243.8 L574.5,243.8 L576.5,243.8 L578.5,243.8 L580.5,243.9 L582.5,243.9 L584.5,243.9 L586.5,244.0 L588.5,244.0 L590.5,244.0 L592.5,244.1 L594.5,244.1 L596.5,244.1 L598.5,244.2 L600.5,244.2 L602.5,244.2 L604.5,244.3 L606.5,244.3 L608.5,244.4 L610.5,244.4 L612.5,244.5 L614.5,244.5 L616.5,244.6 L618.5,244.6 L620.5,244.7 L622.5,244.7 L624.5,244.8 L626.5,244.8 L628.5,244.9 L630.5,244.9 L632.5,245.0 L634.5,245.0 L636.5,245.1 L638.5,245.1 L640.5,245.2 L642.5,245.3 L644.5,245.3 L646.5,245.4 L648.5,245.4 L650.5,245.5 L652.5,245.6 L654.5,245.6 L656.5,245.7 L658.5,245.8 L660.5,245.8 L662.5,245.9 L664.5,246.0 L666.5,246.0 L668.5,246.1 L670.5,246.2 L672.5,246.3 L674.5,246.3 L676.5,246.4 L678.5,246.5 L680.5,246.6 L682.5,246.6 L684.5,246.7 L686.5,246.8 L688.5,246.9 L690.5,247.0 L692.5,247.1 L694.5,247.1 L696.5,247.2 L698.5,247.3 L700.5,247.4 L702.5,247.5 L704.5,247.6 L706.5,247.7 L708.5,247.8 L710.5,247.8 L712.5,247.9 L714.5,248.0 L716.5,248.1 L718.5,248.2 L720.5,248.3 L722.5,248.4 L724.5,248.5 L726.5,248.6 L728.5,248.7 L730.5,248.8 L732.5,248.9 L734.5,249.0 L736.5,249.1 L738.5,249.2 L740.5,249.3 L742.5,249.4 L744.5,249.5 L746.5,249.7 L748.5,249.8 L750.5,249.9 L752.5,250.0 L754.5,250.1 L756.5,250.2 L758.5,250.3 L760.5,250.4 L762.5,250.6 L764.5,250.7 L766.5,250.8 L768.5,250.9 L770.5,251.0 L772.5,251.1 L774.5,251.3 L776.5,251.4 L778.5,251.5 L780.5,251.6 L782.5,251.8 L784.5,251.9 L786.5,252.0 L788.5,252.1 L790.5,252.3 L792.5,252.4 L794.5,252.5 L796.5,252.7 L798.5,252.8 L800.5,252.9 L802.5,253.1 L804.5,253.2 L806.5,253.3 L808.5,253.5 L810.5,253.6 L812.5,253.7 L814.5,253.9 L816.5,254.0 L818.5,254.2 L820.5,254.3 L822.5,254.4 L824.5,254.6 L826.5,254.7 L828.5,254.9 L830.5,255.0 L832.5,255.2 L834.5,255.3 L836.5,255.5 L838.5,255.6 L840.5,255.8 L842.5,255.9 L844.5,256.1 L846.5,256.2 L848.5,256.4 L850.5,256.5 L852.5,256.7 L854.5,256.8 L856.5,257.0 L858.5,257.1 L860.5,257.3 L862.5,257.5 L864.5,257.6 L866.5,257.8 L868.5,258.0 L870.5,258.1 L872.5,258.3 L874.5,258.4 L876.5,258.6 L878.5,258.8 L880.5,258.9 L882.5,259.1 L884.5,259.3 L886.5,259.4 L888.5,259.6 L890.5,259.8 L892.5,260.0 L894.5,260.1 L896.5,260.3 L898.5,260.5 L900.5,260.7 L902.5,260.8 L904.5,261.0 L906.5,261.2 L908.5,261.4 L910.5,261.6 L912.5,261.7 L914.5,261.9 L916.5,262.1 L918.5,262.3 L920.5,262.5 L922.5,262.6 L924.5,262.8 L926.5,263.0 L928.5,263.2 L930.5,263.4 L932.5,263.6 L934.5,263.8 L936.5,264.0 L938.5,264.2 L940.5,264.3 L942.5,264.5 L944.5,264.7 L946.5,264.9 L948.5,265.1 L950.5,265.3 L952.5,265.5 L954.5,265.7 L956.5,265.9 L958.5,266.1 L960.5,266.3 L962.5,266.5 L964.5,266.7 L966.5,266.9 L968.5,267.1 L970.5,267.3 L972.5,267.5 L974.5,267.7 L976.5,267.9 L978.5,268.2 L980.5,268.4 L982.5,268.6 L984.5,268.8 L986.5,269.0" stroke="#ff0000" stroke-dasharray="8.1 8.1"/>
<path d="M546.5,243.5 L548.5,243.5 L550.5,243.5 L552.5,243.6 L554.5,243.6 L556.5,243.7 L558.5,243.7 L560.5,243.8 L562.5,243.9 L564.5,243.9 L566.5,244.0 L568.5,244.1 L570.5,244.2 L572.5,244.3 L574.5,244.4 L576.5,244.5 L578.5,244.6 L580.5,244.7 L582.5,244.8 L584.5,245.0 L586.5,245.1 L588.5,245.2 L590.5,245.4 L592.5,245.5 L594.5,245.7 L596.5,245.9 L598.5,246.0 L600.5,246.2 L602.5,246.4 L604.5,246.5 L606.5,246.7 L608.5,246.9 L610.5,247.1 L612.5,247.3 L614.5,247.5 L616.5,247.7 L618.5,247.9 L620.5,248.2 L622.5,248.4 L624.5,248.6 L626.5,248.8 L628.5,249.1 L630.5,249.3 L632.5,249.6 L634.5,249.8 L636.5,250.1 L638.5,250.3 L640.5,250.6 L642.5,250.8 L644.5,251.1 L646.5,251.4 L648.5,251.7 L650.5,251.9 L652.5,252.2 L654.5,252.5 L656.5,252.8 L658.5,253.1 L660.5,253.4 L662.5,253.7 L664.5,254.0 L666.5,254.3 L668.5,254.6 L670.5,254.9 L672.5,255.3 L674.5,255.6 L676.5,255.9 L678.5,256.2 L680.5,256.6 L682.5,256.9 L684.5,257.3 L686.5,257.6 L688.5,257.9 L690.5,258.3 L692.5,258.6 L694.5,259.0 L696.5,259.4 L698.5,259.7 L700.5,260.1 L702.5,260.4 L704.5,260.8 L706.5,261.2 L708.5,261.6 L710.5,261.9 L712.5,262.3 L714.5,262.7 L716.5,263.1 L718.5,263.5 L720.5,263.9 L722.5,264.2 L724.5,264.6 L726.5,265.0 L728.5,265.4 L730.5,265.8 L732.5,266.2 L734.5,266.6 L736.5,267.0 L738.5,267.4 L740.5,267.9 L742.5,268.3 L744.5,268.7 L746.5,269.1 L748.5,269.5 L750.5,269.9 L752.5,270.3 L754.5,270.8 L756.5,271.2 L758.5,271.6 L760.5,272.0 L762.5,272.5 L764.5,272.9 L766.5,273.3 L768.5,273.7 L770.5,274.2 L772.5,274.6 L774.5,275.0 L776.5,275.5 L778.5,275.9 L780.5,276.4 L782.5,276.8 L784.5,277.2 L786.5,277.7 L788.5,278.1 L790.5,278.5 L792.5,279.0 L794.5,279.4 L796.5,279.9 L798.5,280.3 L800.5,280.8 L802.5,281.2 L804.5,281.6 L806.5,282.1 L808.5,282.5 L810.5,283.0 L812.5,283.4 L814.5,283.9 L816.5,284.3 L818.5,284.8 L820.5,285.2 L822.5,285.7 L824.5,286.1 L826.5,286.6 L828.5,287.0 L830.5,287.4 L832.5,287.9 L834.5,288.3 L836.5,288.8 L838.5,289.2 L840.5,289.7 L842.5,290.1 L844.5,290.6 L846.5,291.0 L848.5,291.4 L850.5,291.9 L852.5,292.3 L854.5,292.8 L856.5,293.2 L858.5,293.6 L860.5,294.1 L862.5,294.5 L864.5,295.0 L866.5,295.4 L868.5,295.8 L870.5,296.3 L872.5,296.7 L874.5,297.1 L876.5,297.5 L878.5,298.0 L880.5,298.4 L882.5,298.8 L884.5,299.3 L886.5,299.7 L888.5,300.1 L890.5,300.5 L892.5,300.9 L894.5,301.4 L896.5,301.8 L898.5,302.2 L900.5,302.6 L902.5,303.0 L904.5,303.4 L906.5,303.8 L908.5,304.2 L910.5,304.6 L912.5,305.0 L914.5,305.4 L916.5,305.8 L918.5,306.2 L920.5,306.6 L922.5,307.0 L924.5,307.4 L926.5,307.8 L928.5,308.1 L930.5,308.5 L932.5,308.9 L934.5,309.3 L936.5,309.6 L938.5,310.0 L940.5,310.4 L942.5,310.8 L944.5,311.1 L946.5,311.5 L948.5,311.8 L950.5,312.2 L952.5,312.5 L954.5,312.9 L956.5,313.2 L958.5,313.6 L960.5,313.9 L962.5,314.2 L964.5,314.6 L966.5,314.9 L968.5,315.2 L970.5,315.5 L972.5,315.9 L974.5,316.2 L976.5,316.5 L978.5,316.8 L980.5,317.1 L982.5,317.4 L984.5,317.7 L986.5,318.0" stroke="#0000ff" stroke-dasharray="8.1 8.1"/>
<path d="M546.5,243.5 L548.5,243.5 L550.5,243.6 L552.5,243.6 L554.5,243.7 L556.5,243.7 L558.5,243.8 L560.5,243.9 L562.5,244.1 L564.5,244.2 L566.5,244.3 L568.5,244.5 L570.5,244.6 L572.5,244.8 L574.5,245.0 L576.5,245.2 L578.5,245.4 L580.5,245.6 L582.5,245.8 L584.5,246.0 L586.5,246.3 L588.5,246.5 L590.5,246.8 L592.5,247.1 L594.5,247.3 L596.5,247.6 L598.5,247.9 L600.5,248.3 L602.5,248.6 L604.5,248.9 L606.5,249.2 L608.5,249.6 L610.5,249.9 L612.5,250.3 L614.5,250.7 L616.5,251.1 L618.5,251.4 L620.5,251.8 L622.5,252.2 L624.5,252.7 L626.5,253.1 L628.5,253.5 L630.5,253.9 L632.5,254.4 L634.5,254.8 L636.5,255.3 L638.5,255.7 L640.5,256.2 L642.5,256.7 L644.5,257.2 L646.5,257.6 L648.5,258.1 L650.5,258.6 L652.5,259.1 L654.5,259.7 L656.5,260.2 L658.5,260.7 L660.5,261.2 L662.5,261.7 L664.5,262.3 L666.5,262.8 L668.5,263.4 L670.5,263.9 L672.5,264.5 L674.5,265.0 L676.5,265.6 L678.5,266.2 L680.5,266.7 L682.5,267.3 L684.5,267.9 L686.5,268.5 L688.5,269.1 L690.5,269.7 L692.5,270.2 L694.5,270.8 L696.5,271.4 L698.5,272.0 L700.5,272.7 L702.5,273.3 L704.5,273.9 L706.5,274.5 L708.5,275.1 L710.5,275.7 L712.5,276.3 L714.5,276.9 L716.5,277.6 L718.5,278.2 L720.5,278.8 L722.5,279.4 L724.5,280.1 L726.5,280.7 L728.5,281.3 L730.5,281.9 L732.5,282.6 L734.5,283.2 L736.5,283.8 L738.5,284.5 L740.5,285.1 L742.5,285.7 L744.5,286.3 L746.5,287.0 L748.5,287.6 L750.5,288.2 L752.5,288.9 L754.5,289.5 L756.5,290.1 L758.5,290.7 L760.5,291.4 L762.5,292.0 L764.5,292.6 L766.5,293.2 L768.5,293.8 L770.5,294.4 L772.5,295.1 L774.5,295.7 L776.5,296.3 L778.5,296.9 L780.5,297.5 L782.5,298.1 L784.5,298.7 L786.5,299.3 L788.5,299.9 L790.5,300.5 L792.5,301.1 L794.5,301.7 L796.5,302.3 L798.5,302.8 L800.5,303.4 L802.5,304.0 L804.5,304.6 L806.5,305.2 L808.5,305.7 L810.5,306.3 L812.5,306.9 L814.5,307.4 L816.5,308.0 L818.5,308.6 L820.5,309.1 L822.5,309.7 L824.5,310.2 L826.5,310.8 L828.5,311.3 L830.5,311.9 L832.5,312.4 L834.5,313.0 L836.5,313.5 L838.5,314.0 L840.5,314.6 L842.5,315.1 L844.5,315.6 L846.5,316.2 L848.5,316.7 L850.5,317.2 L852.5,317.7 L854.5,318.2 L856.5,318.7 L858.5,319.2 L860.5,319.7 L862.5,320.2 L864.5,320.7 L866.5,321.2 L868.5,321.7 L870.5,322.2 L872.5,322.7 L874.5,323.2 L876.5,323.7 L878.5,324.2 L880.5,324.6 L882.5,325.1 L884.5,325.6 L886.5,326.0 L888.5,326.5 L890.5,326.9 L892.5,327.4 L894.5,327.9 L896.5,328.3 L898.5,328.7 L900.5,329.2 L902.5,329.6 L904.5,330.1 L906.5,330.5 L908.5,330.9 L910.5,331.3 L912.5,331.8 L914.5,332.2 L916.5,332.6 L918.5,333.0 L920.5,333.4 L922.5,333.8 L924.5,334.2 L926.5,334.6 L928.5,335.0 L930.5,335.4 L932.5,335.8 L934.5,336.1 L936.5,336.5 L938.5,336.9 L940.5,337.2 L942.5,337.6 L944.5,338.0 L946.5,338.3 L948.5,338.7 L950.5,339.0 L952.5,339.4 L954.5,339.7 L956.5,340.0 L958.5,340.4 L960.5,340.7 L962.5,341.0 L964.5,341.3 L966.5,341.7 L968.5,342.0 L970.5,342.3 L972.5,342.6 L974.5,342.9 L976.5,343.2 L978.5,343.5 L980.5,343.7 L982.5,344.0 L984.5,344.3 L986.5,344.6" stroke="#000000" stroke-dasharray="8.1 8.1"/>
</g>
<path d="M672.16,377.5v-4.4M672.16,48.5v4.4M797.88,377.5v-4.4M797.88,48.5v4.4M923.59,377.5v-4.4M923.59,48.5v4.4M546.5,354.0h4.4M986.5,354.0h-4.4M546.5,307.0h4.4M986.5,307.0h-4.4M546.5,260.0h4.4M986.5,260.0h-4.4M546.5,213.0h4.4M986.5,213.0h-4.4M546.5,166.0h4.4M986.5,166.0h-4.4M546.5,119.0h4.4M986.5,119.0h-4.4M546.5,72.0h4.4M986.5,72.0h-4.4M546.5,48.5V377.5M986.5,48.5V377.5M546.2,48.5H986.8M546.2,377.5H986.8" fill="none" stroke="#262626" stroke-width="0.56"/>
<rect x="557.5" y="59.5" width="157" height="82" fill="#fff"/>
<path d="M557.5,59.5V141.5M714.5,59.5V141.5" fill="none" stroke="#b4b4b4" stroke-width="1" shape-rendering="crispEdges"/>
<path d="M557.0,59.5H715.0M557.0,141.5H715.0" fill="none" stroke="#989898" stroke-width="1" shape-rendering="crispEdges"/>
<line x1="562.2" x2="601.9" y1="74.4" y2="74.4" stroke="#ff0000" stroke-width="2.67"/>
<text class="m i" font-size="21" x="606.0" y="79.9" textLength="25.8" lengthAdjust="spacingAndGlyphs">Bo</text>
<text class="m" font-size="21" x="638.2" y="79.5" textLength="17.6" lengthAdjust="spacingAndGlyphs" style="stroke:none">=</text>
<text class="m" font-size="21" x="661.4" y="79.9" textLength="37.1" lengthAdjust="spacingAndGlyphs">0.05</text>
<line x1="562.2" x2="601.9" y1="100.4" y2="100.4" stroke="#0000ff" stroke-width="2.67"/>
<text class="m i" font-size="21" x="606.0" y="105.9" textLength="25.8" lengthAdjust="spacingAndGlyphs">Bo</text>
<text class="m" font-size="21" x="638.2" y="105.5" textLength="17.6" lengthAdjust="spacingAndGlyphs" style="stroke:none">=</text>
<text class="m" font-size="21" x="661.4" y="105.9" textLength="37.1" lengthAdjust="spacingAndGlyphs">0.01</text>
<line x1="562.2" x2="601.9" y1="126.4" y2="126.4" stroke="#000000" stroke-width="2.67"/>
<text class="m i" font-size="21" x="606.0" y="131.9" textLength="25.8" lengthAdjust="spacingAndGlyphs">Bo</text>
<text class="m" font-size="21" x="638.2" y="131.5" textLength="17.6" lengthAdjust="spacingAndGlyphs" style="stroke:none">=</text>
<text class="m" font-size="21" x="661.4" y="131.9" textLength="47.9" lengthAdjust="spacingAndGlyphs">0.005</text>
<text class="m i" font-size="26.5" x="704.0" y="33.1" textLength="13.3" lengthAdjust="spacingAndGlyphs">h</text>
<text class="m i" font-size="19" x="718.6" y="37.6" textLength="34.6" lengthAdjust="spacingAndGlyphs">min</text>
<text class="m" font-size="27" x="756.0" y="34.4">,</text>
<text class="m i" font-size="26.5" x="776.2" y="33.1" textLength="13.3" lengthAdjust="spacingAndGlyphs">h</text>
<text class="m i" font-size="19" x="790.8" y="37.6" textLength="36.9" lengthAdjust="spacingAndGlyphs">max</text>
<text class="m" font-size="28.5" x="751.4" y="424.1" textLength="19.2" lengthAdjust="spacingAndGlyphs">Ω</text>
<text class="m i" font-size="19.5" x="770.9" y="429.0" textLength="9.6" lengthAdjust="spacingAndGlyphs">d</text>
</svg></body></html>
